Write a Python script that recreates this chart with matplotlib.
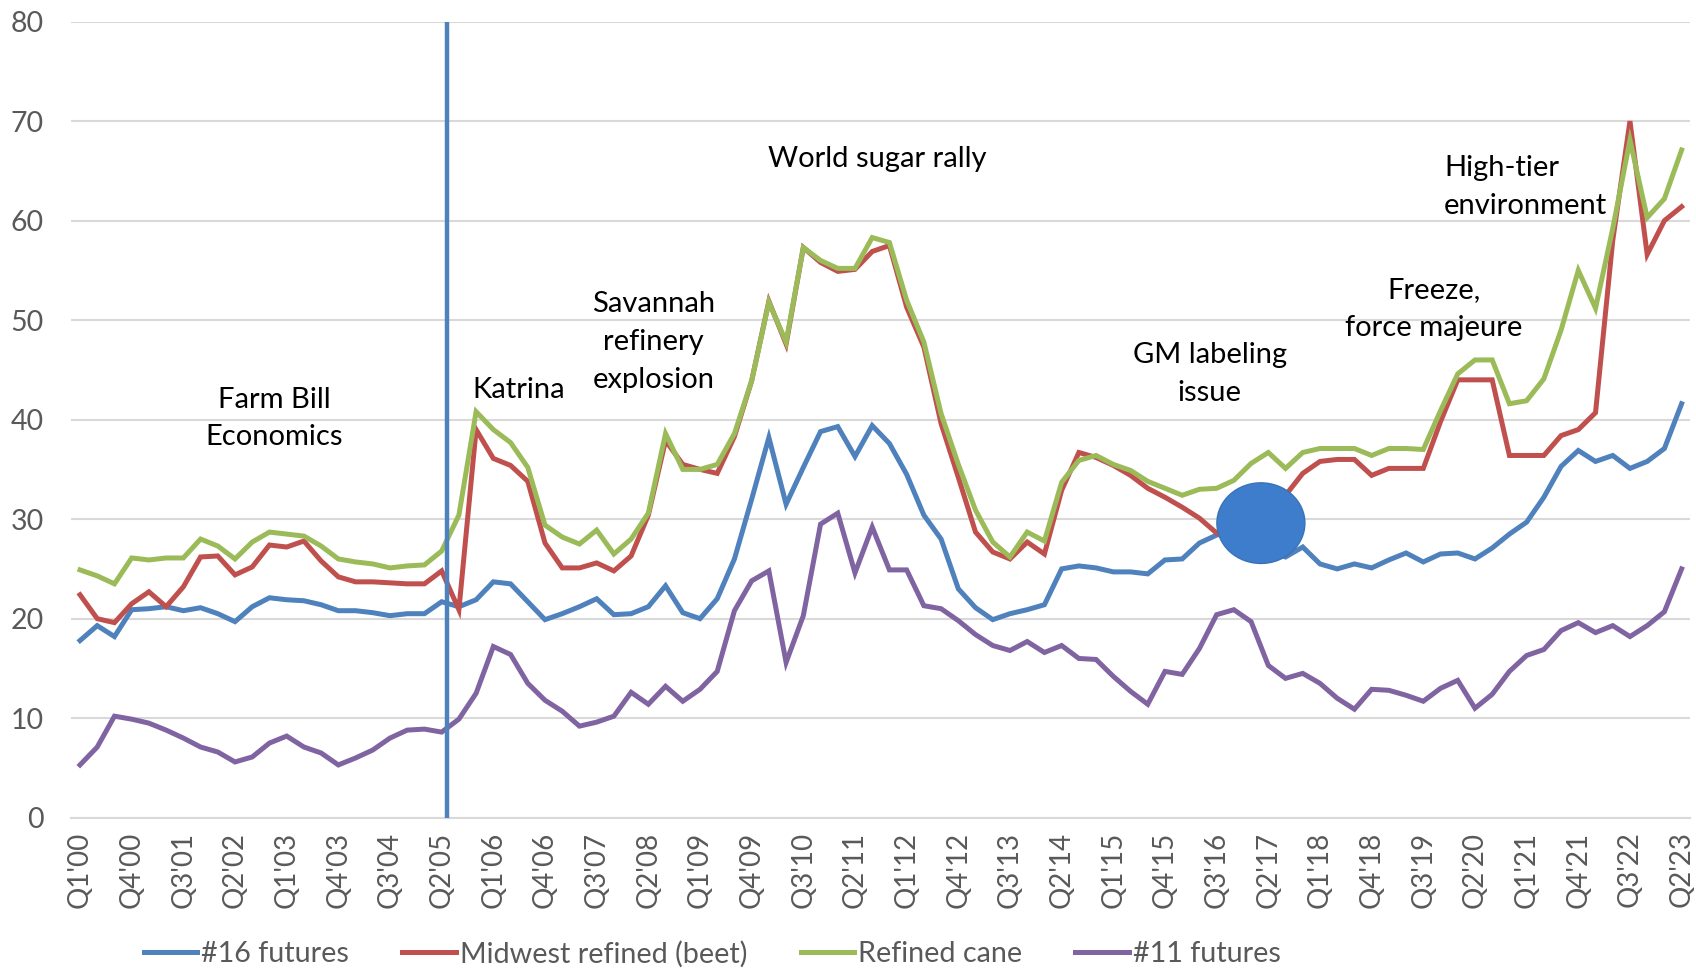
import matplotlib
matplotlib.use('Agg')
import matplotlib.pyplot as plt
from matplotlib.patches import Ellipse
import numpy as np

plt.rcParams['font.family'] = ['Lato', 'DejaVu Sans']

quarters = [f"Q{q}'{y:02d}" for y in range(0, 24) for q in range(1, 5)][:94]

tick_labels = ["Q1'00", "Q4'00", "Q3'01", "Q2'02", "Q1'03", "Q4'03", "Q3'04", "Q2'05",
               "Q1'06", "Q4'06", "Q3'07", "Q2'08", "Q1'09", "Q4'09", "Q3'10", "Q2'11",
               "Q1'12", "Q4'12", "Q3'13", "Q2'14", "Q1'15", "Q4'15", "Q3'16", "Q2'17",
               "Q1'18", "Q4'18", "Q3'19", "Q2'20", "Q1'21", "Q4'21", "Q3'22", "Q2'23"]

futures16 = [17.8, 19.3, 18.2, 20.9, 21.0, 21.2, 20.8, 21.1, 20.5, 19.7, 21.2, 22.1, 21.9, 21.8, 21.4, 20.8,
             20.8, 20.6, 20.3, 20.5, 20.5, 21.7, 21.2, 21.9, 23.7, 23.5, 21.7, 19.9, 20.5, 21.2, 22.0, 20.4,
             20.5, 21.2, 23.3, 20.6, 20.0, 22.0, 26.0, 32.0, 38.2, 31.5, 35.2, 38.8, 39.3, 36.3, 39.4, 37.6,
             34.5, 30.4, 28.0, 23.0, 21.1, 19.9, 20.5, 20.9, 21.4, 25.0, 25.3, 25.1, 24.7, 24.7, 24.5, 25.9,
             26.0, 27.6, 28.4, 28.8, 28.5, 27.0, 26.2, 27.2, 25.5, 25.0, 25.5, 25.1, 25.9, 26.6, 25.7, 26.5,
             26.6, 26.0, 27.1, 28.5, 29.7, 32.2, 35.3, 36.9, 35.8, 36.4, 35.1, 35.8, 37.1, 41.6]

midwest_beet = [22.4, 20.0, 19.6, 21.5, 22.7, 21.2, 23.2, 26.2, 26.3, 24.4, 25.2, 27.4, 27.2, 27.8, 25.8, 24.2,
                23.7, 23.7, 23.6, 23.5, 23.5, 24.8, 20.9, 39.0, 36.1, 35.4, 33.8, 27.6, 25.1, 25.1, 25.6, 24.8,
                26.3, 30.4, 37.9, 35.5, 35.0, 34.6, 38.3, 43.9, 51.9, 47.6, 57.3, 55.8, 54.9, 55.1, 56.9, 57.5,
                51.3, 47.3, 39.6, 34.2, 28.7, 26.7, 26.0, 27.7, 26.5, 32.9, 36.7, 36.2, 35.4, 34.4, 33.1, 32.2,
                31.2, 30.1, 28.6, 28.0, 28.8, 30.5, 32.4, 34.6, 35.8, 36.0, 36.0, 34.4, 35.1, 35.1, 35.1, 39.8,
                44.0, 44.0, 44.0, 36.4, 36.4, 36.4, 38.4, 39.0, 40.7, 58.0, 70.0, 56.6, 60.0, 61.4]

refined_cane = [24.9, 24.3, 23.5, 26.1, 25.9, 26.1, 26.1, 28.0, 27.3, 26.0, 27.7, 28.7, 28.5, 28.3, 27.3, 26.0,
                25.7, 25.5, 25.1, 25.3, 25.4, 26.8, 30.4, 40.8, 39.0, 37.7, 35.2, 29.4, 28.2, 27.5, 28.9, 26.5,
                28.0, 30.6, 38.6, 35.0, 35.0, 35.5, 38.6, 43.9, 51.8, 47.8, 57.3, 56.0, 55.2, 55.2, 58.3, 57.8,
                52.0, 47.8, 40.6, 35.5, 30.9, 27.7, 26.2, 28.7, 27.8, 33.7, 35.9, 36.4, 35.5, 34.9, 33.8, 33.1,
                32.4, 33.0, 33.1, 33.9, 35.6, 36.7, 35.1, 36.7, 37.1, 37.1, 37.1, 36.4, 37.1, 37.1, 37.0, 40.9,
                44.6, 46.0, 46.0, 41.6, 41.9, 44.1, 49.0, 55.0, 51.2, 59.2, 68.1, 60.3, 62.2, 67.1]

futures11 = [5.3, 7.1, 10.2, 9.9, 9.5, 8.8, 8.0, 7.1, 6.6, 5.6, 6.1, 7.5, 8.2, 7.1, 6.5, 5.3,
             6.0, 6.8, 8.0, 8.8, 8.9, 8.6, 9.9, 12.5, 17.2, 16.4, 13.5, 11.8, 10.7, 9.2, 9.6, 10.2,
             12.6, 11.4, 13.2, 11.7, 12.9, 14.7, 20.8, 23.8, 24.8, 15.6, 20.3, 29.5, 30.6, 24.6, 29.2, 24.9,
             24.9, 21.3, 21.0, 19.8, 18.4, 17.3, 16.8, 17.7, 16.6, 17.3, 16.0, 15.9, 14.2, 12.7, 11.4, 14.7,
             14.4, 17.0, 20.4, 20.9, 19.7, 15.3, 14.0, 14.5, 13.5, 12.0, 10.9, 12.9, 12.8, 12.3, 11.7, 13.0,
             13.8, 11.0, 12.4, 14.7, 16.3, 16.9, 18.8, 19.6, 18.6, 19.3, 18.2, 19.3, 20.7, 25.0]

series_names = ["#16 futures", "Midwest refined (beet)", "Refined cane", "#11 futures"]
series_colors = ["#4F81BD", "#C0504D", "#9BBB59", "#8064A2"]

fig = plt.figure(figsize=(16.96, 9.74), dpi=100)
ax = fig.add_axes([0.0421, 0.1605, 0.9545, 0.8173])

x = np.arange(len(quarters))
for vals, name, col in zip([futures16, midwest_beet, refined_cane, futures11], series_names, series_colors):
    ax.plot(x, vals, color=col, lw=3.6, label=name, solid_joinstyle='miter', zorder=3)

# vertical marker line at Q2'05
ax.axvline(quarters.index("Q2'05") + 0.3, color="#4F81BD", lw=3.2, zorder=4)

# ellipse overlay
ax.add_patch(Ellipse((68.57, 29.6), 5.11, 8.1, facecolor="#3E7DCB", edgecolor="#3A72B8",
                     lw=1.0, zorder=5))

ax.set_xlim(-0.5, len(quarters) - 0.5)
ax.set_ylim(0, 80)
ax.set_yticks(np.arange(0, 81, 10))
ax.set_xticks([quarters.index(t) for t in tick_labels])
ax.set_xticklabels(tick_labels, rotation=90)
ax.tick_params(axis='x', length=0, pad=10, labelsize=20, labelcolor="#595959")
ax.tick_params(axis='y', length=0, pad=20, labelsize=20.5, labelcolor="#595959")
ax.grid(axis='y', color="#D9D9D9", lw=1.5, zorder=0)
ax.set_axisbelow(True)
for s in ['top', 'right', 'left']:
    ax.spines[s].set_visible(False)
ax.spines['bottom'].set_color("#D9D9D9")
ax.spines['bottom'].set_linewidth(1.5)

ann_kw = dict(fontsize=21, color="black", ha='center', va='center', linespacing=1.55, zorder=6)
ax.text(11.26, 40.1, "Farm Bill\nEconomics", **ann_kw)
ax.text(25.5, 43.0, "Katrina", **ann_kw)
ax.text(33.3, 47.8, "Savannah\nrefinery\nexplosion", **ann_kw)
ax.text(46.3, 66.2, "World sugar rally", **ann_kw)
ax.text(65.6, 44.6, "GM labeling\nissue", **ann_kw)
ax.text(78.6, 51.1, "Freeze,\nforce majeure", **ann_kw)
ax.text(79.2, 63.4, "High-tier\nenvironment", fontsize=21, color="black", ha='left', va='center',
        linespacing=1.55, zorder=6)

leg = fig.legend(loc='center', bbox_to_anchor=(0.42, 0.0205), ncol=4, frameon=False,
                 fontsize=20.7, handlelength=1.85, handletextpad=0.15, columnspacing=1.85,
                 labelcolor="#595959")

fig.savefig("out.png", dpi=100)
